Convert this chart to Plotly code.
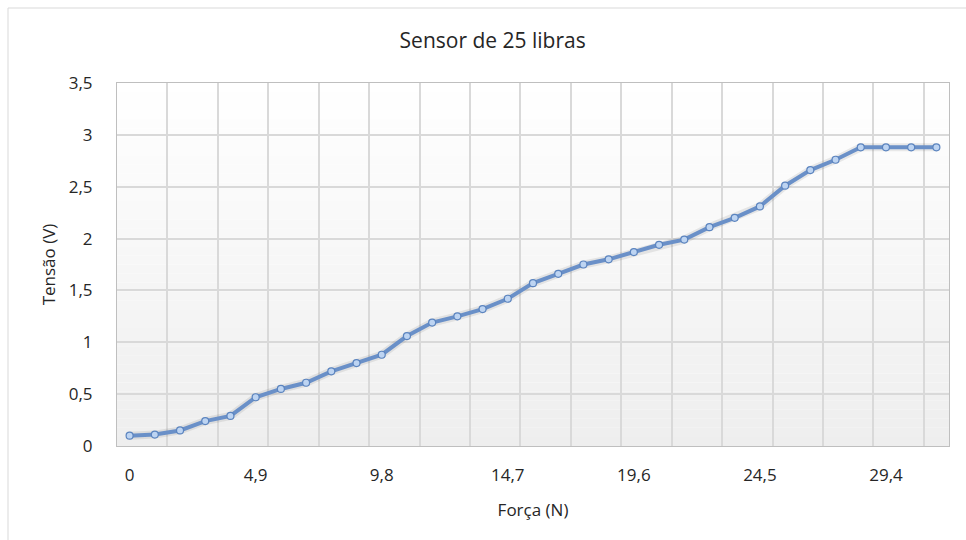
import plotly.graph_objects as go

# Categories (force in N, Excel-style decimal comma)
forca = ["0", "0,98", "1,96", "2,94", "3,92", "4,9", "5,88", "6,86", "7,84", "8,82",
         "9,8", "10,78", "11,76", "12,74", "13,72", "14,7", "15,68", "16,66", "17,64", "18,62",
         "19,6", "20,58", "21,56", "22,54", "23,52", "24,5", "25,48", "26,46", "27,44", "28,42",
         "29,4", "30,38", "31,36"]

# Series values (voltage in V)
tensao = [0.10, 0.11, 0.15, 0.24, 0.29, 0.47, 0.55, 0.61, 0.72, 0.80,
          0.88, 1.06, 1.19, 1.25, 1.32, 1.42, 1.57, 1.66, 1.75, 1.80,
          1.87, 1.94, 1.99, 2.11, 2.20, 2.31, 2.51, 2.66, 2.76, 2.88,
          2.88, 2.88, 2.88]

# Tick labels shown on the axes
x_ticks = ["0", "4,9", "9,8", "14,7", "19,6", "24,5", "29,4"]
y_ticks = [0, 0.5, 1, 1.5, 2, 2.5, 3, 3.5]
y_ticktext = ["0", "0,5", "1", "1,5", "2", "2,5", "3", "3,5"]

FONT = "Open Sans"
TXT = "#262626"
GRID = "#d9d9d9"

fig = go.Figure()

# empty trace to carry the grid-only overlay axis
fig.add_trace(go.Scatter(x=[], y=[], xaxis="x2", yaxis="y", showlegend=False, hoverinfo="skip"))

# soft shadow under the line
fig.add_trace(go.Scatter(
    x=forca, y=tensao, mode="lines",
    line=dict(color="rgba(60,60,60,0.10)", width=8),
    showlegend=False, hoverinfo="skip",
))

fig.add_trace(go.Scatter(
    x=forca, y=tensao, mode="lines+markers",
    line=dict(color="#6a90c8", width=4),
    marker=dict(symbol="circle", size=7, color="#bdd4f2",
                line=dict(color="#5b84bf", width=1.2)),
    showlegend=False,
))

# vertical gradient background of the plot area (white top -> light gray bottom)
shapes = []
n_bands = 40
for i in range(n_bands):
    t = (i + 0.5) / n_bands  # 0 bottom -> 1 top
    g = int(round(0xee + (0xff - 0xee) * t))
    shapes.append(dict(type="rect", xref="paper", yref="paper",
                       x0=0, x1=1, y0=i / n_bands, y1=(i + 1) / n_bands,
                       fillcolor=f"rgb({g},{g},{g})", line=dict(width=0), layer="below"))
# outer chart border
shapes.append(dict(type="rect", xref="paper", yref="paper",
                   x0=-0.131, x1=1.3, y0=-1.0, y1=1.2066,
                   fillcolor="rgba(0,0,0,0)", line=dict(color="#d9d9d9", width=1), layer="below"))

fig.update_layout(
    width=966, height=540, autosize=False,
    margin=dict(l=117, r=17, t=83, b=94),
    paper_bgcolor="white", plot_bgcolor="rgba(0,0,0,0)",
    font=dict(family=FONT, color=TXT, size=17),
    title=dict(text="Sensor de 25 libras", x=0.51, xref="container", xanchor="center",
               y=0.924, yref="container", yanchor="middle",
               font=dict(family=FONT, size=21, color="#262626")),
    xaxis=dict(
        type="category", range=[-0.5, len(forca) - 0.5],
        tickmode="array", tickvals=x_ticks, ticktext=x_ticks,
        showgrid=False, ticks="", ticklabelstandoff=14,
        tickfont=dict(size=17, color=TXT),
        showline=True, linecolor="#bfbfbf", linewidth=1, mirror=True,
        title=dict(text="Força (N)", font=dict(size=17, color=TXT), standoff=18),
        zeroline=False,
    ),
    xaxis2=dict(
        overlaying="x", type="linear", range=[-0.5, len(forca) - 0.5],
        tick0=-0.5, dtick=2, showgrid=True, gridcolor=GRID, gridwidth=1.5,
        showticklabels=False, ticks="", zeroline=False, showline=False,
    ),
    yaxis=dict(
        range=[0, 3.5], tickmode="array", tickvals=y_ticks, ticktext=y_ticktext,
        showgrid=True, gridcolor=GRID, gridwidth=1.5, ticks="", ticklabelstandoff=20,
        tickfont=dict(size=17, color=TXT),
        showline=True, linecolor="#bfbfbf", linewidth=1, mirror=True, zeroline=False,
        title=dict(text="Tensão (V)", font=dict(size=17, color=TXT), standoff=8),
    ),
    shapes=shapes,
)

fig.write_html("out.html")
